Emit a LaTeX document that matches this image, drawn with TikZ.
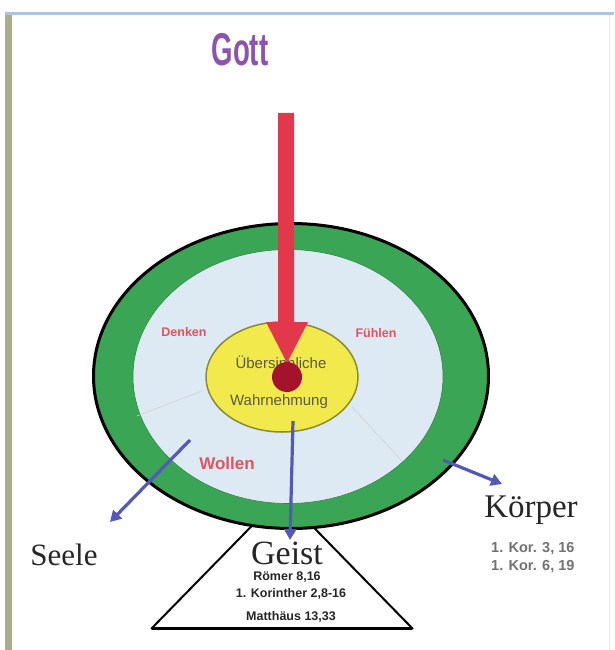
\documentclass[tikz,border=0pt]{standalone}
\usepackage{fontspec}
\setmainfont{Liberation Serif}
\newfontfamily\sanf{Liberation Sans}
\usetikzlibrary{arrows.meta}
\definecolor{ringgreen}{HTML}{3AA655}
\definecolor{innerblue}{HTML}{DDEAF4}
\definecolor{yellowfill}{HTML}{F2EA4C}
\definecolor{yellowedge}{HTML}{8C8A34}
\definecolor{redarrow}{HTML}{E2384C}
\definecolor{reddot}{HTML}{A5122C}
\definecolor{bluearrow}{HTML}{5458B6}
\definecolor{labelred}{HTML}{DE5560}
\definecolor{gottpurple}{HTML}{8E52B0}
\definecolor{framebar}{HTML}{A9AD88}
\definecolor{frametop}{HTML}{A9C5E2}
\definecolor{olivetext}{HTML}{5C5A3C}
\begin{document}
\begin{tikzpicture}[x=1pt,y=-1pt,
  every node/.style={inner sep=1pt},
  redlabel/.style={text=labelred,font=\sanf\bfseries\fontsize{12.5}{13}\selectfont},
  innertext/.style={text=olivetext,font=\sanf\fontsize{15}{16}\selectfont},
  bigserif/.style={text=black!85,font=\fontsize{33}{34}\selectfont},
  refsmall/.style={text=black!85,font=\sanf\bfseries\fontsize{12.5}{13}\selectfont},
  refgray/.style={text=black!55,font=\sanf\bfseries\fontsize{14.5}{15}\selectfont},
  bluearr/.style={draw=bluearrow,line width=3.2pt,-{Triangle[length=11pt,width=12pt]}},
  faint/.style={draw=black!18,line width=0.6pt}]
\useasboundingbox (0,0) rectangle (614,650);
\fill[white] (0,0) rectangle (614,650);
% frame
\fill[framebar] (5,14) rectangle (12,650);
\draw[frametop,line width=2.5pt] (5,13.5) -- (614,13.5);
\draw[black!10,line width=1pt] (609,15) -- (609,650);
% title
\node[text=gottpurple] (gott) at (240,50) {\scalebox{0.6}[1]{\sanf\bfseries\fontsize{46}{46}\selectfont Gott}};
% pedestal triangle
\draw[line width=2pt,line join=round,fill=white] (282,495) coordinate (apex) -- (152,628) coordinate (tl) -- (412,628) coordinate (tr) -- cycle;
\draw[line width=3pt,line cap=round] (tl) -- (tr);
% body ellipses
\draw[fill=ringgreen,line width=3pt] (291,376) ellipse [x radius=197.5,y radius=152.5];
\draw[fill=innerblue,draw=ringgreen!80!black,line width=0.6pt] (288,376.5) ellipse [x radius=155,y radius=127];
% faint dividing lines
\coordinate (fl1) at (202,391); \coordinate (fl2) at (137,416);
\coordinate (fr1) at (352,407); \coordinate (fr2) at (402,461);
\draw[faint] (fl1) -- (fl2);
\draw[faint] (fr1) -- (fr2);
% spirit ellipse
\draw[fill=yellowfill,draw=yellowedge,line width=1.5pt] (282,377) ellipse [x radius=76,y radius=55];
\node[innertext] (ueber) at (281,362) {Übersinnliche};
\node[innertext] (wahr) at (279,402) {Wahrnehmung};
% labels
\node[redlabel] (denken) at (184,332) {Denken};
\node[redlabel] (fuehlen) at (376,333) {Fühlen};
\node[redlabel,font=\sanf\bfseries\fontsize{17}{18}\selectfont] (wollen) at (227,463) {Wollen};
% red arrow from God
\fill[redarrow] (278,113) -- (294,113) -- (294,322) -- (308,322) -- (287,363) -- (266,322) -- (278,322) -- cycle;
\fill[reddot] (287,377) circle [radius=15];
% blue arrows
\coordinate (a1s) at (190,440); \coordinate (a1e) at (110,522);
\coordinate (a2s) at (293,421); \coordinate (a2e) at (290,540);
\coordinate (a3s) at (443,460); \coordinate (a3e) at (502,484);
\draw[bluearr] (a1s) -- (a1e);
\draw[bluearr] (a2s) -- (a2e);
\draw[bluearr] (a3s) -- (a3e);
% outside labels
\node[bigserif,anchor=base,font=\fontsize{31}{32}\selectfont] (seele) at (64,565) {Seele};
\node[bigserif,anchor=base] (koerper) at (531,517) {Körper};
\node[bigserif,anchor=base,font=\fontsize{34}{35}\selectfont] (geist) at (287,564) {Geist};
\node[refsmall] (roemer) at (287,577) {Römer 8,16};
\node[refsmall] (korinther) at (291,594) {1. Korinther 2,8-16};
\node[refsmall] (matth) at (291,617) {Matthäus 13,33};
\node[refgray,anchor=west] (kor1) at (490,549) {1. Kor. 3, 16};
\node[refgray,anchor=west] (kor2) at (490,567) {1. Kor. 6, 19};
\end{tikzpicture}
\end{document}
